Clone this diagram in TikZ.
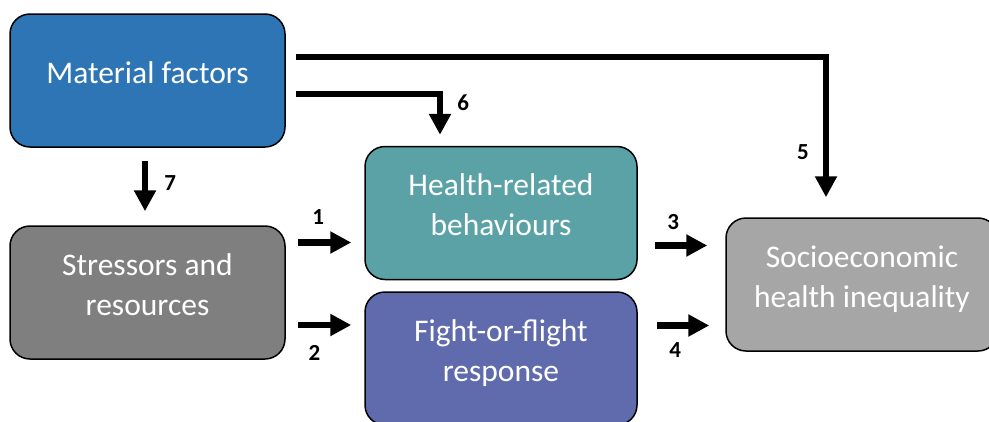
\documentclass[tikz,border=0pt]{standalone}
\usepackage{fontspec}
\setmainfont{Carlito}
\usetikzlibrary{arrows.meta}
\definecolor{matblue}{HTML}{2E75B6}
\definecolor{stressgray}{HTML}{7F7F7F}
\definecolor{behavteal}{HTML}{5AA2A6}
\definecolor{fightblue}{HTML}{5F6BAD}
\definecolor{socgray}{HTML}{A6A6A6}
\begin{document}
\begin{tikzpicture}[x=1pt,y=1pt,
    box/.style={draw=black,line width=1.5pt,rounded corners=20pt,minimum height=133pt,
        text=white,align=center,font=\fontsize{31.5}{40}\selectfont,text depth=16pt,inner sep=0pt},
    flow/.style={line width=6.5pt,-{Triangle[width=21pt,length=21pt]}},
    num/.style={font=\fontsize{23}{26}\selectfont\bfseries,inner sep=0pt}]
    \useasboundingbox (0,0) rectangle (989,-421);
    \clip (0,0) rectangle (989,-421);
    \node[box,fill=matblue,minimum width=275pt] (mat) at (147.5,-80.5) {Material factors};
    \node[box,fill=stressgray,minimum width=275pt] (stress) at (147.5,-292.5) {Stressors and\\resources};
    \node[box,fill=behavteal,minimum width=272pt] (health) at (501,-213) {Health-related\\behaviours};
    \node[box,fill=fightblue,minimum width=272pt] (fight) at (501,-358.5) {Fight-or-flight\\response};
    \node[box,fill=socgray,minimum width=272pt] (soc) at (862,-284.5) {Socioeconomic\\health inequality};
    \draw[flow] ([xshift=12pt,yshift=50pt]stress.east) -- ([xshift=-13pt,yshift=-29.5pt]health.west) node[num,pos=0.38,above=14.5pt] {1};
    \draw[flow] ([xshift=12pt,yshift=-32.5pt]stress.east) -- ([xshift=-13pt,yshift=33.5pt]fight.west) node[num,pos=0.31,below=17.5pt] {2};
    \draw[flow] ([xshift=17pt,yshift=-32.5pt]health.east) -- ([xshift=-18pt,yshift=39pt]soc.west) node[num,pos=0.35,above=12.5pt] {3};
    \draw[flow] ([xshift=19pt,yshift=33pt]fight.east) -- ([xshift=-16pt,yshift=-41pt]soc.west) node[num,pos=0.35,below=13.5pt] {4};
    \draw[flow] ([xshift=10pt,yshift=23.5pt]mat.east) -| ([xshift=-36pt,yshift=20pt]soc.north) node[num,pos=0.84,left=14pt] {5};
    \draw[flow] ([xshift=10pt,yshift=-13.5pt]mat.east) -| ([xshift=-61pt,yshift=11pt]health.north) node[num,pos=0.61,right=14pt] {6};
    \draw[flow] ([xshift=-2.5pt,yshift=-13pt]mat.south) -- ([xshift=-2.5pt,yshift=14pt]stress.north) node[num,pos=0.44,right=16pt] {7};
\end{tikzpicture}
\end{document}
